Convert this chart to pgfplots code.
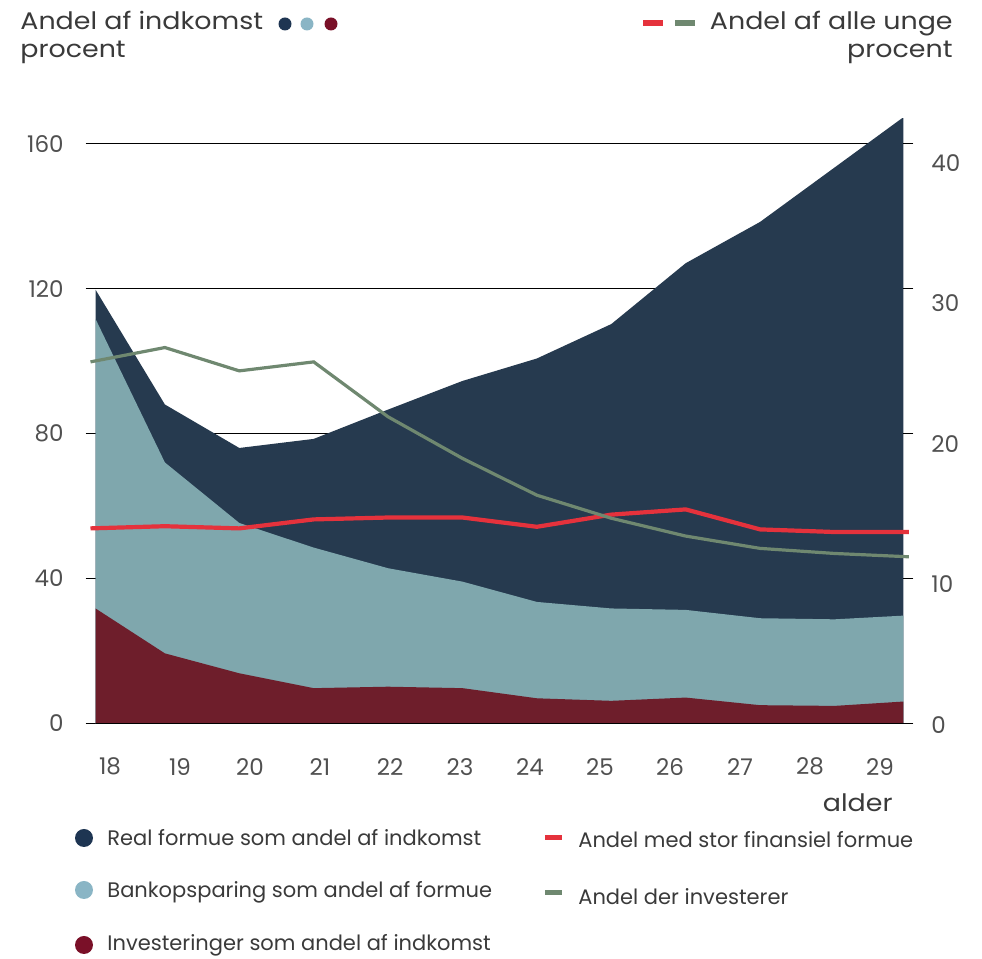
\documentclass[border=0pt]{standalone}
\usepackage{pgfplots}
\pgfplotsset{compat=1.18}
\usepackage{fontspec}
\setmainfont{Poppins}
\definecolor{navy}{HTML}{263A4F}
\definecolor{teal}{HTML}{7FA7AD}
\definecolor{wine}{HTML}{6E1E2B}
\definecolor{redline}{HTML}{E5323C}
\definecolor{greenline}{HTML}{6F8870}
\definecolor{dotnavy}{HTML}{1E3552}
\definecolor{dotlight}{HTML}{8AB5C5}
\definecolor{dotred}{HTML}{7A1028}
\definecolor{txt}{HTML}{3A3A3A}
\definecolor{ticktxt}{HTML}{505050}

\pgfplotstableread{
i  real  bank  inv
0  122   114.5 32.6
1  88    72    19.3
2  76    55.3  13.8
3  78.5  48.5  9.7
4  86.6  42.8  10.1
5  94.5  39.1  9.7
6  100.7 33.5  6.9
7  110.2 31.7  6.2
8  127   31.3  7.1
9  138.4 29.0  5.0
10 153.4 28.7  4.8
11 168.4 29.8  6.1
}\areadata

\pgfplotstableread{
i  stor   inv
0  13.45  24.94
1  13.6   25.93
2  13.45  24.32
3  14.07  24.94
4  14.2   21.15
5  14.2   18.28
6  13.56  15.74
7  14.4   14.15
8  14.76  12.92
9  13.38  12.07
10 13.2   11.72
11 13.2   11.49
}\linedata

\newcommand{\wide}[1]{\scalebox{1.12}[1]{#1}}

\begin{document}
\begin{tikzpicture}[x=0.5pt,y=0.5pt]
\path[use as bounding box] (0,0) rectangle (982,959);

\begin{axis}[
  at={(47.85pt,117.85pt)}, anchor=south west,
  scale only axis, width=403.8pt, height=302.5pt,
  xmin=0.07, xmax=10.925, ymin=0, ymax=167,
  /pgf/number format/assume math mode=true,
  axis lines*=left,
  x axis line style={draw=none},
  y axis line style={draw=none},
  xtick={0.262,1.203,2.144,3.085,4.026,4.967,5.908,6.849,7.79,8.731,9.672,10.613},
  xticklabels={18,19,20,21,22,23,24,25,26,27,28,29},
  xtick style={draw=none},
  xticklabel style={anchor=center, yshift=-16.7pt, font=\fontsize{11.5}{13}\selectfont, text=ticktxt},
  ytick={0,40,80,120,160},
  tick align=outside,
  major tick length=5pt,
  ytick style={black, line width=0.5pt},
  yticklabel style={anchor=east, inner sep=0pt, xshift=-10.85pt, font=\fontsize{11.5}{13}\selectfont, text=ticktxt},
  ymajorgrids,
  grid style={black, line width=0.55pt},
  clip=true,
]
\addplot[draw=none, fill=navy] table[x=i, y=real] {\areadata} \closedcycle;
\addplot[draw=none, fill=teal] table[x=i, y=bank] {\areadata} \closedcycle;
\addplot[draw=none, fill=wine] table[x=i, y=inv] {\areadata} \closedcycle;
\draw[black, line width=0.6pt] (axis cs:0.07,0) -- (axis cs:10.925,0);
\end{axis}

\begin{axis}[
  at={(47.85pt,117.85pt)}, anchor=south west,
  scale only axis, width=403.8pt, height=302.5pt,
  xmin=0.07, xmax=10.925, ymin=0, ymax=41.75,
  /pgf/number format/assume math mode=true,
  axis x line=none,
  axis y line*=right,
  y axis line style={draw=none},
  ytick={0,10,20,30,40},
  tick align=outside,
  major tick length=5pt,
  ytick style={black, line width=0.5pt},
  yticklabel={\pgfmathsetlengthmacro\rs{-(0.75+0.225*\tick)*1pt}\raisebox{\rs}[\height][\depth]{\pgfmathprintnumber{\tick}}},
  yticklabel style={anchor=west, inner sep=0pt, xshift=8.85pt, font=\fontsize{11.5}{13}\selectfont, text=ticktxt},
  clip=false,
]
\addplot[draw=redline, line width=2.1pt] table[x=i, y=stor] {\linedata};
\addplot[draw=greenline, line width=1.6pt] table[x=i, y=inv] {\linedata};
\end{axis}

% titles
\node[anchor=base west, inner sep=0pt, text=txt, font=\fontsize{12}{14}\selectfont] at (20,929.7) {\wide{Andel af indkomst}};
\node[anchor=base west, inner sep=0pt, text=txt, font=\fontsize{12}{14}\selectfont] at (20,901) {\wide{procent}};
\fill[dotnavy] (285,935) circle (6.5);
\fill[dotlight] (307,935) circle (6.5);
\fill[dotred] (331,935) circle (6.5);

\node[anchor=base east, inner sep=0pt, text=txt, font=\fontsize{12}{14}\selectfont] at (953,929.7) {\wide{Andel af alle unge}};
\node[anchor=base east, inner sep=0pt, text=txt, font=\fontsize{12}{14}\selectfont] at (953,901) {\wide{procent}};
\draw[redline, line width=2.8pt] (643,936) -- (663,936);
\draw[greenline, line width=2.8pt] (675,936) -- (695,936);

\node[anchor=base east, inner sep=0pt, text=txt, font=\fontsize{12}{14}\selectfont] at (893,147) {\wide{alder}};

% legend
\fill[dotnavy] (84,121) circle (9);
\fill[dotlight] (84,69) circle (9);
\fill[dotred] (84,14) circle (9);
\node[anchor=west, inner sep=0pt, text=txt, font=\fontsize{10.5}{12}\selectfont] at (107,121) {Real formue som andel af indkomst};
\node[anchor=west, inner sep=0pt, text=txt, font=\fontsize{10.5}{12}\selectfont] at (107,67) {Bankopsparing som andel af formue};
\node[anchor=west, inner sep=0pt, text=txt, font=\fontsize{10.5}{12}\selectfont] at (107,14) {Investeringer som andel af indkomst};
\draw[redline, line width=2.5pt] (545,121) -- (562,121);
\draw[greenline, line width=2.5pt] (545,66) -- (562,66);
\node[anchor=west, inner sep=0pt, text=txt, font=\fontsize{10.5}{12}\selectfont] at (578,119) {Andel med stor finansiel formue};
\node[anchor=west, inner sep=0pt, text=txt, font=\fontsize{10.5}{12}\selectfont] at (578,62) {Andel der investerer};
\end{tikzpicture}
\end{document}
